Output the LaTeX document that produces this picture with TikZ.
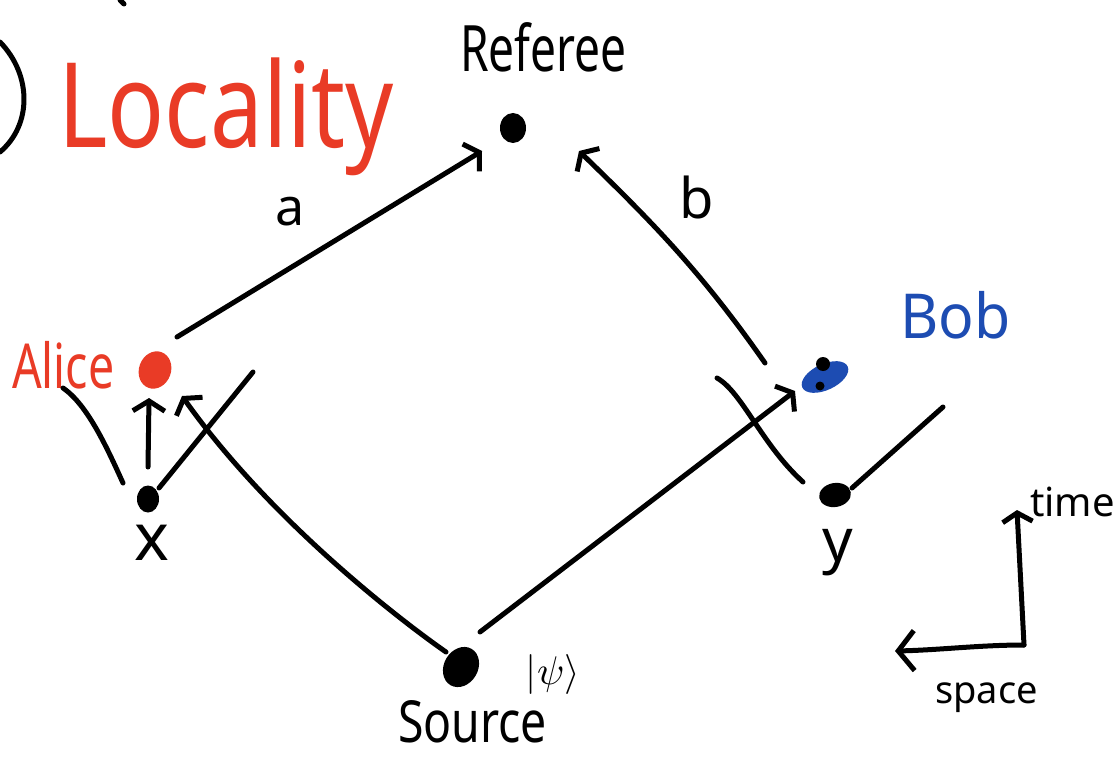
\documentclass[tikz,border=0pt]{standalone}
\usepackage{fontspec}
\setmainfont{Noto Sans}
\usetikzlibrary{arrows.meta,shapes.geometric,calc}
\definecolor{inkred}{RGB}{233,59,38}
\definecolor{inkblue}{RGB}{29,76,178}
\begin{document}
\begin{tikzpicture}[x=1pt,y=-1pt,
  ink/.style={line width=5pt,line cap=round,line join=round},
  conn/.style={ink,-{Straight Barb[length=10pt,width=32pt]}},
  dot/.style={ellipse,fill=black,inner sep=0pt},
  lbl/.style={inner sep=0pt},
  fs/.style={font=\fontsize{#1}{#1}\selectfont}]
\useasboundingbox (0,0) rectangle (1113,757);

% partial marks at the top left
\draw[ink] (0,42) .. controls (32,75) and (32,125) .. (0,152);
\draw[ink] (120,0) -- (124,4);

% title
\node[lbl,text=inkred,fs=118,anchor=base west] (loc) at (58,147) {\scalebox{0.8}[1]{Locality}};

% events
\node[dot,minimum width=26pt,minimum height=30pt] (referee) at (513,128) {};
\node[dot,fill=inkred,minimum width=32pt,minimum height=38pt,rotate=-20] (alice) at (155,370) {};
\node[ellipse,fill=inkblue,inner sep=0pt,minimum width=50pt,minimum height=26pt,rotate=25] (bob) at (825,377) {};
\node[circle,fill=black,inner sep=0pt,minimum size=14pt] (bobA) at (823,364) {};
\node[circle,fill=black,inner sep=0pt,minimum size=9pt] (bobB) at (820,386) {};
\node[dot,minimum width=22pt,minimum height=27pt] (x) at (148,499) {};
\node[dot,minimum width=32pt,minimum height=24pt,rotate=10] (y) at (835,495) {};
\node[dot,minimum width=34pt,minimum height=42pt,rotate=-30] (source) at (461,667) {};

% labels
\node[lbl,fs=64,anchor=base west] (refl) at (460,72) {\scalebox{0.72}[1]{Referee}};
\node[lbl,text=inkred,fs=62,anchor=base west] (alicel) at (12,388) {\scalebox{0.75}[1]{Alice}};
\node[lbl,text=inkblue,fs=62,anchor=base west] (bobl) at (900,338) {\scalebox{0.95}[1]{Bob}};
\node[lbl,fs=52] (al) at (290,212) {a};
\node[lbl,fs=56] (bl) at (697,197) {b};
\node[lbl,fs=66] (xl) at (152,543) {x};
\node[lbl,fs=60] (yl) at (838,553) {y};
\node[lbl] (psil) at (553,674) {\scalebox{4}{$|\psi\rangle$}};
\node[lbl,fs=58,anchor=base west] (sourcel) at (398,742) {\scalebox{0.8}[1]{Source}};
\node[lbl,fs=40,anchor=base west] (timel) at (1030,516) {time};
\node[lbl,fs=38,anchor=base west] (spacel) at (935,703) {space};

% signals
\draw[conn] ($(alice)+(22,-33)$) -- ($(referee)+(-31,23)$);
\draw[conn] ($(bob)+(-60,-14)$) .. controls (700,270) and (650,220) .. ($(referee)+(66,23)$);
\draw[conn] ($(source)+(19,-35)$) -- ($(bob)+(-30,14)$);
\draw[conn] ($(source)+(-15,-15)$) .. controls (400,620) and (270,520) .. ($(alice)+(27,26)$);
\draw[conn] ($(x)+(0,-32)$) -- ($(alice)+(-6,28)$);

% light cone edges
\coordinate (xr) at (253,372);
\coordinate (xlft) at (63,388);
\coordinate (yr) at (943,407);
\coordinate (ylft) at (717,378);
\draw[ink] ($(x)+(11,-11)$) -- (xr);
\draw[ink] (xlft) .. controls (88,405) and (108,450) .. ($(x)+(-25,-16)$);
\draw[ink] ($(y)+(17,-7)$) -- (yr);
\draw[ink] (ylft) .. controls (742,392) and (762,445) .. ($(y)+(-32,-13)$);

% axes
\coordinate (origin) at (1024,645);
\coordinate (tEnd) at (1017,510);
\coordinate (sEnd) at (895,651);
\draw[ink,-{Straight Barb[length=9pt,width=30pt]}] (origin) -- (tEnd);
\draw[ink,-{Straight Barb[length=16pt,width=40pt]}] (origin) .. controls (980,645) and (940,650) .. (sEnd);
\end{tikzpicture}
\end{document}
